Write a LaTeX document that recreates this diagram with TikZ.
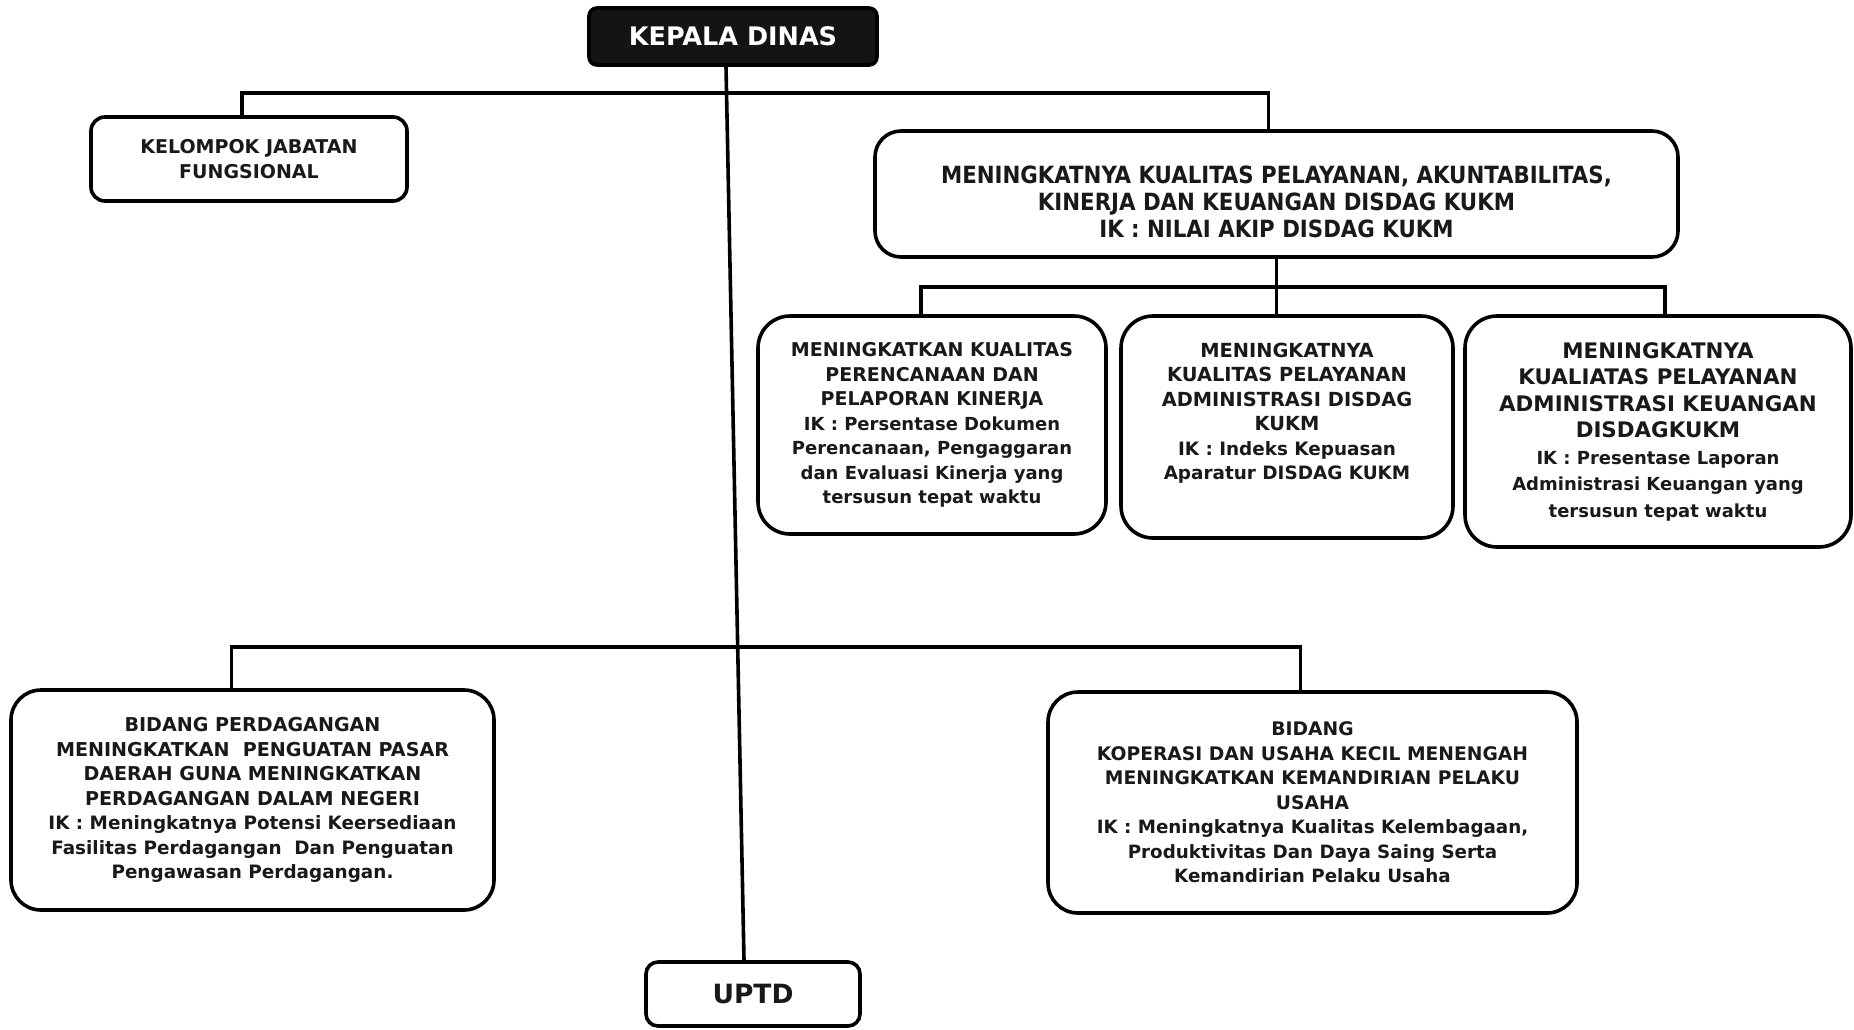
\documentclass[tikz,border=0pt]{standalone}
\usepackage{fontspec}
\setmainfont{DejaVu Sans}
\newfontfamily\condfont{DejaVu Sans Condensed}
\newcommand{\fsz}[1]{\fontsize{#1}{24.5}\selectfont}
\begin{document}
\begin{tikzpicture}[x=1pt,y=-1pt,
  box/.style={draw=black,line width=3.6pt,rounded corners=22pt,fill=white,
    align=center,inner sep=0pt,text=black!90,font=\bfseries\fontsize{18}{24.5}\selectfont},
  lab/.style={font=\bfseries\fontsize{18}{24.5}\selectfont,align=center,text=black!90},
  link/.style={draw=black,line width=3.6pt}]
\useasboundingbox[fill=white] (0,0) rectangle (1854,1029);

\node[box,fill=black!92,text=white,rounded corners=8pt,minimum width=288pt,minimum height=57pt,
  font=\bfseries\fontsize{25.5}{28}\selectfont] (kd) at (733,36.5) {KEPALA DINAS};

\node[box,rounded corners=14pt,minimum width=316pt,minimum height=84pt,
  font=\bfseries\fontsize{19}{25}\selectfont] (kel) at (249,159)
  {KELOMPOK JABATAN\\FUNGSIONAL};

\node[box,rounded corners=26pt,minimum width=803pt,minimum height=126pt,
  label={[lab,font=\condfont\bfseries\fontsize{23.7}{27}\selectfont,yshift=-8pt]center:MENINGKATNYA KUALITAS PELAYANAN, AKUNTABILITAS,\\KINERJA DAN KEUANGAN DISDAG KUKM\\IK : NILAI AKIP DISDAG KUKM}] (rt) at (1276.5,194) {};

\node[box,rounded corners=32pt,minimum width=348pt,minimum height=218pt] (pa) at (932,425)
  {\fsz{19}MENINGKATKAN KUALITAS\\\fsz{19}PERENCANAAN DAN\\\fsz{19}PELAPORAN KINERJA\\\fsz{18}IK : Persentase Dokumen\\\fsz{18}Perencanaan, Pengaggaran\\\fsz{18}dan Evaluasi Kinerja yang\\\fsz{18}tersusun tepat waktu};

\node[box,rounded corners=32pt,minimum width=332pt,minimum height=222pt,
  label={[lab,yshift=14pt]center:\fsz{19.4}MENINGKATNYA\\\fsz{19.4}KUALITAS PELAYANAN\\\fsz{19.4}ADMINISTRASI DISDAG\\\fsz{19.4}KUKM\\\fsz{18.4}IK : Indeks Kepuasan\\\fsz{18.4}Aparatur DISDAG KUKM}] (pb) at (1287,427) {};

\node[box,rounded corners=32pt,minimum width=386pt,minimum height=231pt,
  font=\bfseries\fontsize{21.4}{26.5}\selectfont] (pc) at (1658,431.5)
  {MENINGKATNYA\\KUALIATAS PELAYANAN\\ADMINISTRASI KEUANGAN\\DISDAGKUKM\\\fsz{18}IK : Presentase Laporan\\\fsz{18}Administrasi Keuangan yang\\\fsz{18}tersusun tepat waktu};

\node[box,rounded corners=30pt,minimum width=483pt,minimum height=220pt] (bp) at (252.5,800)
  {\fsz{19.1}BIDANG PERDAGANGAN\\\fsz{19.1}MENINGKATKAN\ \ PENGUATAN PASAR\\\fsz{19.1}DAERAH GUNA MENINGKATKAN\\\fsz{19.1}PERDAGANGAN DALAM NEGERI\\\fsz{18.4}IK : Meningkatnya Potensi Keersediaan\\\fsz{18.4}Fasilitas Perdagangan\ \ Dan Penguatan\\\fsz{18.4}Pengawasan Perdagangan.};

\node[box,rounded corners=30pt,minimum width=529pt,minimum height=221pt] (bk) at (1312.5,802.5)
  {\fsz{18.7}BIDANG\\\fsz{18.7}KOPERASI DAN USAHA KECIL MENENGAH\\\fsz{18.7}MENINGKATKAN KEMANDIRIAN PELAKU\\\fsz{18.7}USAHA\\\fsz{18.3}IK : Meningkatnya Kualitas Kelembagaan,\\\fsz{18.3}Produktivitas Dan Daya Saing Serta\\\fsz{18.3}Kemandirian Pelaku Usaha};

\node[box,rounded corners=12pt,minimum width=214pt,minimum height=64pt,
  font=\bfseries\fontsize{26.5}{30}\selectfont] (uptd) at (753,994) {UPTD};

\coordinate (j1) at (733,93);
\coordinate (j2) at (1276.5,287);
\coordinate (j3) at (739,647);

\draw[link] ([xshift=-7pt]kd.south) -- ([xshift=-9pt]uptd.north);
\draw[link] ([xshift=-7pt]kel.north) |- (j1) -| ([xshift=-8pt]rt.north);
\draw[link] (rt.south) -- (j2);
\draw[link] ([xshift=-11pt]pa.north) |- (j2) -| ([xshift=7pt]pc.north);
\draw[link] (j2) -- (j2 |- pb.north);
\draw[link] ([xshift=-21pt]bp.north) |- (j3) -| ([xshift=-12pt]bk.north);
\end{tikzpicture}
\end{document}
